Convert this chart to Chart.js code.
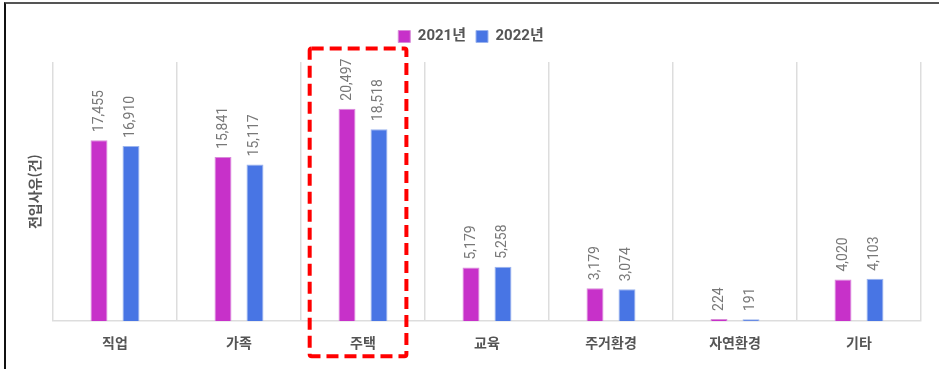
<!DOCTYPE html>
<html lang="ko">
<head>
<meta charset="utf-8">
<title>전입사유</title>
<script src="https://cdn.jsdelivr.net/npm/chart.js@4/dist/chart.umd.min.js"></script>
<style>
  html, body { margin: 0; padding: 0; background: #fff; }
  #wrap {
    position: absolute; left: 0; top: 0; width: 939px; height: 369px;
  }
  #frame {
    position: absolute; left: 4px; top: 2px; width: 935px; height: 367px;
    border-top: 2px solid #555; border-left: 2px solid #111; box-sizing: border-box;
    pointer-events: none;
  }
  canvas { position: absolute; left: 0; top: 0; }
</style>
</head>
<body>
<div id="wrap">
  <canvas id="c" width="939" height="369"></canvas>
  <div id="frame"></div>
</div>
<script>
// Reasons for moving in, by category, for two years
const categories = ['직업', '가족', '주택', '교육', '주거환경', '자연환경', '기타'];
const values2021 = [17455, 15841, 20497, 5179, 3179, 224, 4020];
const values2022 = [16910, 15117, 18518, 5258, 3074, 191, 4103];
const seriesNames = ['2021년', '2022년'];
const axisTitle = '전입사유(건)';
const highlightIndex = 2; // 주택

const FONT = "Roboto, 'Noto Sans CJK KR', 'Noto Sans', sans-serif";
const KFONT = "'Noto Sans CJK KR', Roboto, sans-serif";

// Rotated value labels above each bar
const valueLabels = {
  id: 'valueLabels',
  afterDatasetsDraw(chart) {
    const ctx = chart.ctx;
    ctx.save();
    ctx.font = '14px ' + FONT;
    ctx.fillStyle = '#787878';
    ctx.textAlign = 'left';
    ctx.textBaseline = 'middle';
    chart.data.datasets.forEach((ds, i) => {
      chart.getDatasetMeta(i).data.forEach((bar, j) => {
        ctx.save();
        ctx.translate(bar.x, bar.y - 8);
        ctx.rotate(-Math.PI / 2);
        ctx.fillText(ds.data[j].toLocaleString('en-US'), 0, 0);
        ctx.restore();
      });
    });
    ctx.restore();
  }
};

// Extra room under the legend
const legendGap = {
  id: 'legendGap',
  beforeLayout(chart) {
    const lg = chart.legend;
    if (lg && !lg._gapPatched) {
      const fit = lg.fit;
      lg.fit = function () { fit.call(this); this.height += 8; };
      lg._gapPatched = true;
    }
  }
};

// Dashed box around the highlighted category
const highlightBox = {
  id: 'highlightBox',
  afterDraw(chart) {
    const ctx = chart.ctx;
    const area = chart.chartArea;
    const xs = chart.scales.x;
    const cx = xs.getPixelForValue(highlightIndex);
    const w = xs.width / categories.length;
    const left = cx - 0.43 * w, right = cx + 0.35 * w;
    const top = area.top - 13.5, bottom = area.bottom + 35;
    ctx.save();
    ctx.strokeStyle = '#ff0000';
    ctx.lineWidth = 4;
    ctx.setLineDash([12, 6]);
    ctx.lineJoin = 'round';
    ctx.beginPath();
    ctx.roundRect(left, top, right - left, bottom - top, 2);
    ctx.stroke();
    ctx.restore();
  }
};

new Chart(document.getElementById('c'), {
  type: 'bar',
  data: {
    labels: categories,
    datasets: [
      { label: seriesNames[0], data: values2021, backgroundColor: '#c731c9', borderColor: '#d98ad9', borderWidth: 1 },
      { label: seriesNames[1], data: values2022, backgroundColor: '#4875e4', borderColor: '#9bb4ee', borderWidth: 1 }
    ]
  },
  options: {
    responsive: false,
    animation: false,
    devicePixelRatio: 1,
    categoryPercentage: 0.516,
    barPercentage: 0.53,
    layout: { padding: { left: 21, right: 18, top: 19, bottom: 5 } },
    plugins: {
      legend: {
        position: 'top',
        labels: {
          boxWidth: 12, boxHeight: 12, padding: 10,
          color: '#555',
          font: { family: FONT, size: 15, weight: 'bold' }
        }
      },
      tooltip: { enabled: false }
    },
    scales: {
      x: {
        grid: { color: '#dddddd', lineWidth: 1.5, drawTicks: false, offset: true },
        border: { color: '#dddddd', width: 1.5 },
        ticks: { color: '#555', padding: 13, font: { family: KFONT, size: 14, weight: 'bold' } }
      },
      y: {
        min: 0, max: 25000,
        grid: { display: false },
        border: { display: false },
        ticks: { display: false },
        title: {
          display: true, text: axisTitle, color: '#555',
          padding: { top: 5.6, bottom: 1.6 },
          font: { family: KFONT, size: 14, weight: 'bold' }
        }
      }
    }
  },
  plugins: [valueLabels, legendGap, highlightBox]
});
</script>
</body>
</html>
